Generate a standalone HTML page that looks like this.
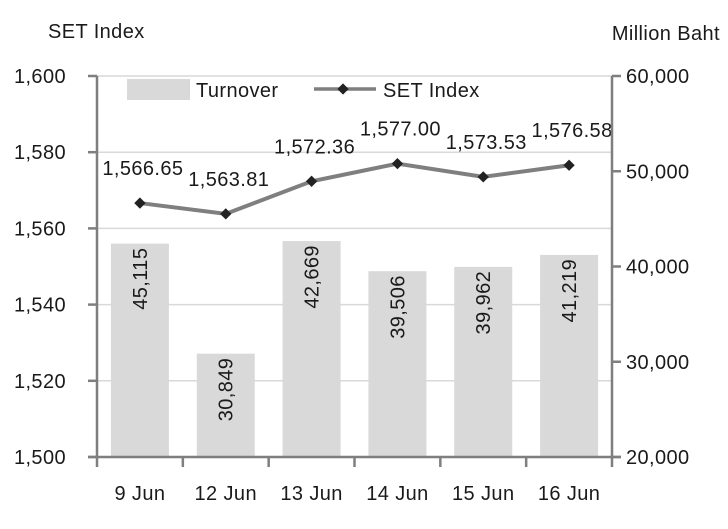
<!DOCTYPE html>
<html><head><meta charset="utf-8"><style>
body{margin:0;background:#fff}
svg{font-family:"Liberation Sans",Arial,sans-serif;font-size:20px;fill:#1a1a1a;letter-spacing:0.4px}
</style></head><body>
<svg id="c" width="728" height="524" viewBox="0 0 728 524">
<text x="48" y="38">SET Index</text>
<text x="720" y="40" text-anchor="end">Million Baht</text>
<g id="grid"></g><g id="bars"></g><g id="line"></g><g id="axes"></g>
<g>
<rect x="127" y="79" width="63" height="21" fill="#d9d9d9"/>
<text x="196" y="97">Turnover</text>
<line x1="314" y1="89" x2="376" y2="89" stroke="#7f7f7f" stroke-width="3.5"/>
<rect x="339" y="85" width="8" height="8" transform="rotate(45 343 89)" fill="#222"/>
<text x="383" y="97">SET Index</text>
</g>
</svg>
<script>
const categories=["9 Jun","12 Jun","13 Jun","14 Jun","15 Jun","16 Jun"];
const turnover=[42400,30849,42669,39506,39962,41219];
const turnoverLabels=["45,115","30,849","42,669","39,506","39,962","41,219"];
const setIndex=[1566.65,1563.81,1572.36,1577.00,1573.53,1576.58];
const leftTicks=[1500,1520,1540,1560,1580,1600];
const rightTicks=[20000,30000,40000,50000,60000];
const NS="http://www.w3.org/2000/svg";
const X0=97,X1=612,Y0=457,Y1=76,bw=(X1-X0)/categories.length;
const yL=v=>Y0-(v-1500)/100*(Y0-Y1);
const yR=v=>Y0-(v-20000)/40000*(Y0-Y1);
const xc=i=>X0+bw*(i+0.5);
function mk(t,a,p){const e=document.createElementNS(NS,t);for(const k in a)e.setAttribute(k,a[k]);p.appendChild(e);return e;}
const grid=document.getElementById('grid'),bars=document.getElementById('bars'),line=document.getElementById('line'),axes=document.getElementById('axes');
leftTicks.forEach(v=>{if(v===1500)return;const y=yL(v);const g=mk('line',{x1:X0,y1:y,x2:X1,y2:y,stroke:'#d9d9d9','stroke-width':1.5},grid);
 
 });
turnover.forEach((v,i)=>{
 const r=mk('rect',{x:xc(i)-29,y:yR(v),width:58,height:Y0-yR(v),fill:'#d9d9d9'},bars);
 
 
 const ty=yR(v)+4,tx=xc(i)+7;
 const t=mk('text',{x:tx,y:ty,'text-anchor':'end',transform:`rotate(-90 ${tx} ${ty})`},bars);
 t.textContent=turnoverLabels[i];
 
 
});
const pl=mk('polyline',{points:setIndex.map((v,i)=>xc(i)+','+yL(v)).join(' '),fill:'none',stroke:'#7f7f7f','stroke-width':4},line);


setIndex.forEach((v,i)=>{
 const x=xc(i),y=yL(v);
 const m=mk('rect',{x:x-4,y:y-4,width:8,height:8,fill:'#222',transform:`rotate(45 ${x} ${y})`},line);
 
 
 const t=mk('text',{x:x+3,y:y-28,'text-anchor':'middle'},line);
 t.textContent=v.toLocaleString('en-US',{minimumFractionDigits:2});
 
 
});
const ax={stroke:'#7f7f7f','stroke-width':2.5};
let a=mk('line',Object.assign({x1:X0,y1:Y1,x2:X0,y2:Y0},ax),axes);
a=mk('line',Object.assign({x1:X1,y1:Y1,x2:X1,y2:Y0},ax),axes);
a=mk('line',Object.assign({x1:X0-9,y1:Y0,x2:X1+9,y2:Y0},ax),axes);
leftTicks.forEach(v=>{const y=yL(v);mk('line',Object.assign({x1:X0-9,y1:y,x2:X0,y2:y},ax),axes);
 const t=mk('text',{x:66,y:y+7,'text-anchor':'end'},axes);t.textContent=v.toLocaleString('en-US');
 
 });
rightTicks.forEach(v=>{const y=yR(v);mk('line',Object.assign({x1:X1,y1:y,x2:X1+9,y2:y},ax),axes);
 const t=mk('text',{x:626,y:y+7},axes);t.textContent=v.toLocaleString('en-US');
 
 });
for(let i=0;i<=categories.length;i++){const x=X0+bw*i;mk('line',Object.assign({x1:x,y1:Y0,x2:x,y2:Y0+10},ax),axes);}
categories.forEach((c,i)=>{const t=mk('text',{x:xc(i),y:500,'text-anchor':'middle'},axes);t.textContent=c;
 
 });
</script>
</body></html>
